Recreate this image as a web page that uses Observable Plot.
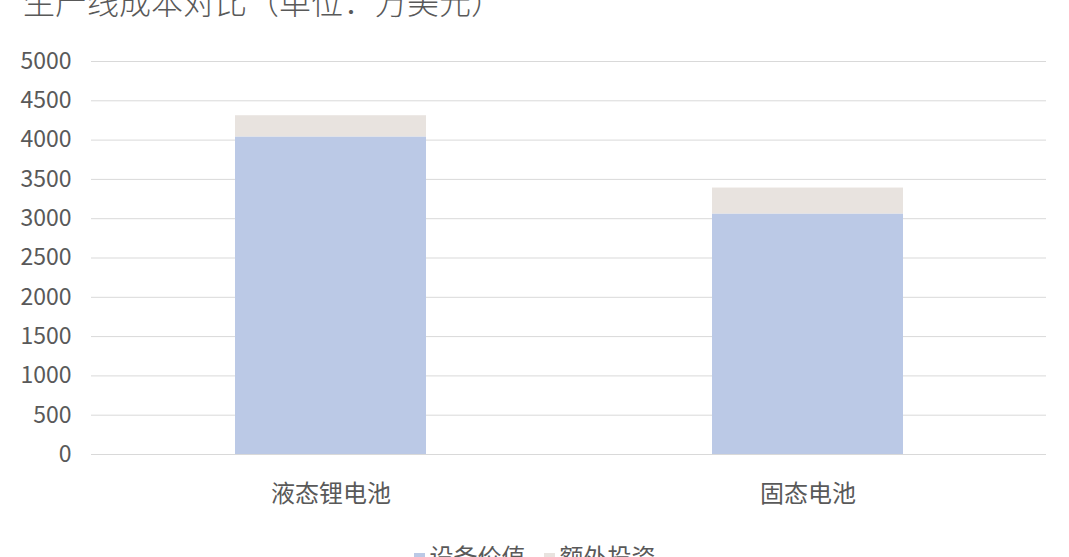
<!DOCTYPE html>
<html>
<head>
<meta charset="utf-8">
<script src="https://cdn.jsdelivr.net/npm/d3@7"></script>
<script src="https://cdn.jsdelivr.net/npm/@observablehq/plot@0.6"></script>
<style>
  html, body { margin: 0; padding: 0; background: #fff; overflow: hidden; }
  #wrap { position: relative; width: 1069px; height: 557px; font-family: "Noto Sans CJK SC", sans-serif; color: #595959; }
  #title { position: absolute; left: 23px; top: -16px; font-size: 32px; line-height: 32px; white-space: nowrap; color: #595959; font-weight: 300; }
  #chart { position: absolute; left: 0; top: 0; }
  #legend { position: absolute; top: 541px; left: 0; width: 1069px; text-align: center; font-size: 24px; line-height: 30px; white-space: nowrap; }
  .item { display: inline-block; margin: 0 9px; }
  .sw { display: inline-block; width: 11px; height: 11px; margin-right: 5px; vertical-align: middle; position: relative; top: -1px; }
</style>
</head>
<body>
<div id="wrap">
  <div id="chart"></div>
  <div id="title"></div>
  <div id="legend"></div>
</div>
<script>
const titleText = "生产线成本对比（单位：万美元）";
const categories = ["液态锂电池", "固态电池"];
const seriesNames = ["设备价值", "额外投资"];
const equipmentValues = [4040, 3060];
const extraValues = [270, 330];
const seriesColors = ["#bbc9e6", "#e8e3df"];
const yTicks = [0, 500, 1000, 1500, 2000, 2500, 3000, 3500, 4000, 4500, 5000];

document.getElementById("title").textContent = titleText;

const data = [];
categories.forEach((c, i) => {
  data.push({category: c, series: seriesNames[0], value: equipmentValues[i]});
  data.push({category: c, series: seriesNames[1], value: extraValues[i]});
});

const chart = Plot.plot({
  width: 1069,
  height: 520,
  marginTop: 61,
  marginBottom: 66,
  marginLeft: 91,
  marginRight: 23,
  style: { fontFamily: "'Noto Sans CJK SC', sans-serif", fontSize: "22px", color: "#595959", background: "transparent" },
  x: { domain: categories, paddingInner: 0.6, paddingOuter: 0.3, label: null },
  y: { domain: [0, 5000], ticks: yTicks, label: null },
  color: { domain: seriesNames, range: seriesColors },
  marks: [
    Plot.gridY(yTicks, { stroke: "#d9d9d9", strokeOpacity: 1, strokeWidth: 1 }),
    Plot.barY(data, { x: "category", y: "value", fill: "series", order: seriesNames }),
    Plot.axisY({ ticks: yTicks, tickSize: 0, tickPadding: 20, tickFormat: "d", fontSize: 23, fill: "#595959", label: null }),
    Plot.axisX({ tickSize: 0, tickPadding: 30, fontSize: 24, fill: "#595959", label: null })
  ]
});
document.getElementById("chart").appendChild(chart);

const legend = document.getElementById("legend");
seriesNames.forEach((s, i) => {
  const item = document.createElement("span");
  item.className = "item";
  const sw = document.createElement("span");
  sw.className = "sw";
  sw.style.background = seriesColors[i];
  item.appendChild(sw);
  item.appendChild(document.createTextNode(s));
  legend.appendChild(item);
});
</script>
</body>
</html>
